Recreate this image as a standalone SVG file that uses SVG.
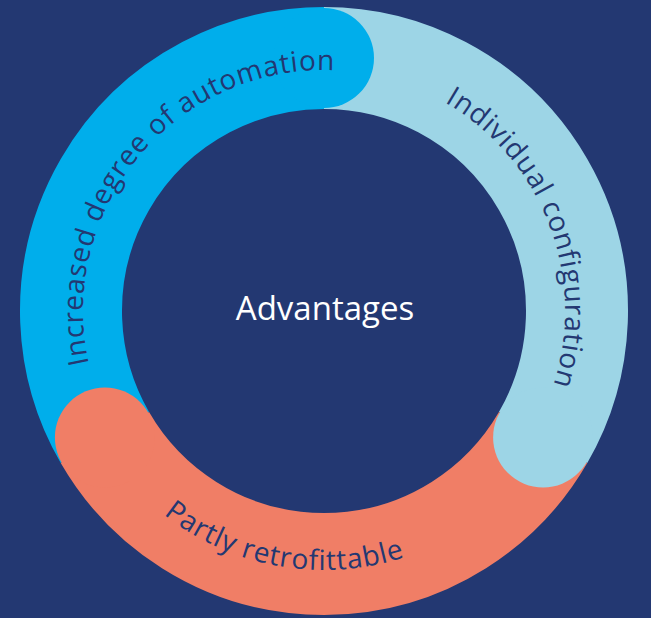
<svg xmlns="http://www.w3.org/2000/svg" width="651" height="618" viewBox="0 0 651 618">
  <style>
    .seg { fill: none; stroke-width: 102; stroke-linecap: butt; }
    .lbl { font-family: "Open Sans", "Noto Sans", "Liberation Sans", sans-serif; font-size: 28px; fill: #233872; letter-spacing: 0.8px; }
    .center { font-family: "Open Sans", "Noto Sans", "Liberation Sans", sans-serif; font-size: 33px; fill: #ffffff; }
  </style>
  <defs>
    <path id="pBlue" d="M115.3,431.5 A241,241 0 0 1 406.4,84.5"/>
    <path id="pLight" d="M319.8,70 A241,241 0 0 1 482.1,492.9"/>
    <path id="pOrange" d="M68.9,356 A259,259 0 0 0 548.3,440.5"/>
  </defs>
  <rect width="651" height="618" fill="#233872"/>
  <g id="ring">
    <path class="seg" stroke="#00AEEB" d="M104.9,437.5 A253,253 0 0 1 324,58"/>
    <path class="seg" stroke="#9DD5E6" d="M324,58 A253,253 0 0 1 543.1,437.5"/>
    <path class="seg" stroke="#F07E66" d="M543.1,437.5 A253,253 0 0 1 104.9,437.5"/>
  </g>
  <g id="node-automation">
    <circle cx="324" cy="58" r="50" fill="#00AEEB"/>
    <text class="lbl"><textPath href="#pBlue" startOffset="50%" text-anchor="middle">Increased degree of automation</textPath></text>
  </g>
  <g id="node-configuration">
    <circle cx="543.1" cy="437.5" r="50" fill="#9DD5E6"/>
    <text class="lbl"><textPath href="#pLight" startOffset="50%" text-anchor="middle">Individual configuration</textPath></text>
  </g>
  <g id="node-retrofit">
    <circle cx="104.9" cy="437.5" r="50" fill="#F07E66"/>
    <text class="lbl"><textPath href="#pOrange" startOffset="50%" text-anchor="middle">Partly retrofittable</textPath></text>
  </g>
  <g id="node-center">
    <text class="center" x="325" y="320" text-anchor="middle">Advantages</text>
  </g>
  <g id="connectors"></g>
</svg>
